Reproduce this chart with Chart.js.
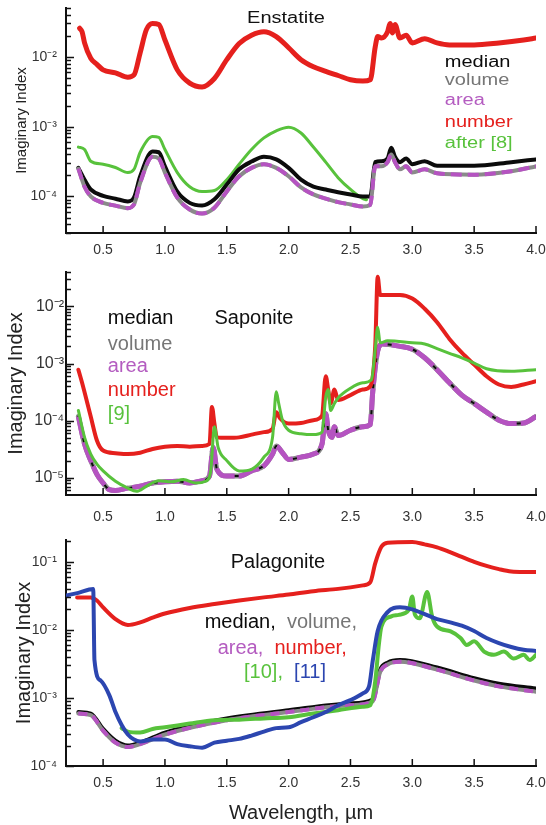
<!DOCTYPE html>
<html>
<head>
<meta charset="utf-8">
<script src="https://cdn.jsdelivr.net/npm/chart.js@4.4.1/dist/chart.umd.min.js"></script>
<style>
  html, body { margin: 0; padding: 0; background: #fff; }
  #wrap { position: relative; width: 546px; height: 825px; overflow: hidden; }
  canvas { position: absolute; left: 0; }
</style>
</head>
<body>
<div id="wrap">
  <canvas id="p1" width="546" height="265" style="top:0px"></canvas>
  <canvas id="p2" width="546" height="273" style="top:262px"></canvas>
  <canvas id="p3" width="546" height="290" style="top:535px"></canvas>
</div>
<script>
// Imaginary index vs wavelength (um) for three minerals

const X_TICKS = [0.5, 1.0, 1.5, 2.0, 2.5, 3.0, 3.5, 4.0];

// ---- Enstatite ----
const P1_DECADES = [1e-4, 1e-3, 1e-2];
const P1_LABELS = ['10⁻⁴', '10⁻³', '10⁻²'];

const P1_X_NUMBER = [0.31,0.33,0.35,0.4,0.45,0.5,0.6,0.7,0.75,0.8,0.85,0.9,0.95,1.0,1.1,1.2,1.3,1.4,1.5,1.6,1.7,1.8,1.9,2.0,2.1,2.2,2.3,2.4,2.5,2.6,2.66,2.7,2.72,2.75,2.8,2.82,2.84,2.86,2.9,2.95,3.0,3.1,3.2,3.3,3.5,3.7,3.9,4.0];
const P1_NUMBER = [2.57e-2,2.29e-2,1.58e-2,9.5e-3,7.8e-3,6.5e-3,5.9e-3,5.1e-3,5.5e-3,1.15e-2,2.45e-2,3.0e-2,2.9e-2,1.74e-2,6.5e-3,4.2e-3,3.7e-3,4.9e-3,9.1e-3,1.55e-2,2.04e-2,2.29e-2,1.95e-2,1.35e-2,9.1e-3,7.2e-3,6.2e-3,5.4e-3,4.7e-3,4.5e-3,4.7e-3,1.38e-2,1.95e-2,1.86e-2,2.29e-2,3.0e-2,2.2e-2,2.9e-2,1.86e-2,2.04e-2,1.58e-2,1.82e-2,1.58e-2,1.48e-2,1.48e-2,1.58e-2,1.74e-2,1.86e-2];

const P1_X = [0.3,0.35,0.4,0.5,0.6,0.7,0.75,0.8,0.9,0.95,1.0,1.1,1.2,1.3,1.4,1.5,1.6,1.7,1.8,1.9,2.0,2.1,2.2,2.3,2.4,2.5,2.6,2.66,2.7,2.75,2.8,2.83,2.86,2.9,2.95,3.0,3.1,3.2,3.5,3.8,4.0];
const P1_MEDIAN = [2.57e-4,1.74e-4,1.26e-4,1.02e-4,9.3e-5,8.5e-5,9.7e-5,1.95e-4,4.4e-4,4.3e-4,2.7e-4,1.17e-4,8.1e-5,7.4e-5,9.1e-5,1.48e-4,2.45e-4,3.16e-4,3.7e-4,3.4e-4,2.57e-4,1.74e-4,1.38e-4,1.26e-4,1.15e-4,1.07e-4,1.0e-4,1.0e-4,3.1e-4,3.2e-4,3.5e-4,5.0e-4,3.7e-4,3.1e-4,3.5e-4,2.9e-4,3.2e-4,2.75e-4,2.75e-4,3.1e-4,3.4e-4];
const P1_AREA = [2.5e-4,1.38e-4,1.0e-4,8.1e-5,7.4e-5,6.8e-5,7.7e-5,1.58e-4,3.7e-4,3.5e-4,2.2e-4,9.6e-5,6.5e-5,5.7e-5,6.9e-5,1.18e-4,1.95e-4,2.57e-4,2.9e-4,2.57e-4,1.95e-4,1.35e-4,1.07e-4,9.3e-5,8.3e-5,7.7e-5,7.2e-5,7.6e-5,2.7e-4,2.7e-4,3.1e-4,4.0e-4,3.1e-4,2.45e-4,2.7e-4,2.2e-4,2.45e-4,2.15e-4,2.05e-4,2.3e-4,2.7e-4];
const P1_VOLUME = P1_AREA; // volume sits under the area curve

const P1_X_REF = [0.3,0.35,0.4,0.5,0.6,0.7,0.75,0.8,0.9,0.95,1.0,1.1,1.2,1.3,1.4,1.5,1.6,1.7,1.8,1.9,2.0,2.1,2.2,2.3,2.4,2.5,2.6,2.63];
const P1_REF = [5.1e-4,4.7e-4,3.2e-4,2.9e-4,2.6e-4,2.2e-4,2.45e-4,4.3e-4,7.2e-4,7.0e-4,4.7e-4,2.2e-4,1.38e-4,1.18e-4,1.22e-4,1.74e-4,2.9e-4,4.7e-4,6.9e-4,8.7e-4,9.8e-4,8.1e-4,5.1e-4,3.1e-4,1.86e-4,1.26e-4,9.3e-5,9.0e-5];

// ---- Saponite ----
const P2_DECADES = [1e-5, 1e-4, 1e-3, 1e-2];
const P2_LABELS = ['10⁻⁵', '10⁻⁴', '10⁻³', '10⁻²'];

const P2_X_NUMBER = [0.3,0.33,0.4,0.45,0.5,0.6,0.7,0.8,0.9,1.0,1.1,1.2,1.3,1.36,1.38,1.4,1.42,1.5,1.6,1.7,1.8,1.87,1.9,1.93,2.0,2.1,2.2,2.27,2.3,2.32,2.34,2.37,2.4,2.5,2.6,2.66,2.7,2.72,2.74,2.8,2.9,3.0,3.1,3.2,3.3,3.4,3.5,3.6,3.7,3.8,3.9,4.0];
const P2_NUMBER = [7.8e-4,4.6e-4,1.18e-4,4.5e-5,3.0e-5,2.7e-5,2.6e-5,2.75e-5,3.2e-5,3.5e-5,3.6e-5,3.5e-5,3.6e-5,3.9e-5,1.74e-4,8.9e-5,5.1e-5,5.0e-5,5.1e-5,5.7e-5,6.3e-5,7.2e-5,1.41e-4,1.1e-4,8.9e-5,9.1e-5,1.02e-4,1.23e-4,6.0e-4,3.5e-4,2.0e-4,3.5e-4,2.3e-4,2.8e-4,3.5e-4,4.0e-4,2.0e-3,3.3e-2,1.58e-2,1.58e-2,1.58e-2,1.37e-2,9.1e-3,5.3e-3,2.7e-3,1.55e-3,9.6e-4,6.0e-4,4.3e-4,3.9e-4,4.3e-4,4.9e-4];

const P2_X_REF = [0.3,0.35,0.4,0.45,0.5,0.6,0.7,0.77,0.85,0.95,1.05,1.15,1.25,1.33,1.37,1.4,1.43,1.5,1.6,1.7,1.8,1.87,1.9,1.92,1.95,2.0,2.1,2.2,2.27,2.3,2.32,2.34,2.37,2.4,2.5,2.6,2.67,2.7,2.72,2.74,2.8,3.0,3.1,3.2,3.3,3.4,3.5,3.6,3.8,4.0];
const P2_REF = [1.51e-4,5.1e-5,2.6e-5,1.74e-5,1.32e-5,8.7e-6,6.6e-6,5.8e-6,7.1e-6,8.9e-6,8.5e-6,9.3e-6,8.1e-6,8.7e-6,1.32e-5,7.8e-5,3.4e-5,2.0e-5,1.32e-5,1.41e-5,2.3e-5,5.1e-5,3.2e-4,2.0e-4,1.02e-4,6.8e-5,5.9e-5,5.7e-5,6.3e-5,2.6e-4,3.5e-4,1.5e-4,2.0e-4,2.5e-4,3.7e-4,4.6e-4,5.2e-4,1.78e-3,4.3e-3,2.3e-3,2.5e-3,2.3e-3,2.2e-3,1.82e-3,1.51e-3,1.26e-3,1.02e-3,8.1e-4,7.3e-4,7.8e-4];

const P2_X = [0.3,0.35,0.4,0.45,0.5,0.55,0.6,0.7,0.8,0.9,1.0,1.1,1.2,1.3,1.36,1.39,1.42,1.5,1.6,1.7,1.8,1.87,1.9,1.95,2.0,2.1,2.2,2.27,2.3,2.32,2.35,2.37,2.4,2.5,2.6,2.66,2.68,2.72,2.76,2.9,3.0,3.1,3.2,3.3,3.4,3.5,3.6,3.7,3.8,3.9,4.0];
const P2_AREA = [1.18e-4,3.9e-5,2.0e-5,1.15e-5,8.1e-6,6.2e-6,6.0e-6,6.6e-6,7.1e-6,8.1e-6,8.5e-6,8.7e-6,8.1e-6,8.9e-6,1.07e-5,3.4e-5,1.41e-5,1.07e-5,1.07e-5,1.32e-5,1.62e-5,2.6e-5,3.6e-5,2.75e-5,2.1e-5,2.3e-5,2.6e-5,3.9e-5,1.32e-4,6.8e-5,5.1e-5,7.8e-5,5.5e-5,6.8e-5,7.8e-5,8.5e-5,3.2e-4,1.66e-3,2.2e-3,2.0e-3,1.78e-3,1.26e-3,7.8e-4,4.6e-4,2.8e-4,2.0e-4,1.41e-4,1.02e-4,8.9e-5,9.1e-5,1.18e-4];
const P2_MEDIAN = P2_AREA;  // indistinguishable at this scale
const P2_VOLUME = P2_AREA;

// ---- Palagonite ----
const P3_DECADES = [1e-4, 1e-3, 1e-2, 1e-1];
const P3_LABELS = ['10⁻⁴', '10⁻³', '10⁻²', '10⁻¹'];

const P3_X_NUMBER = [0.29,0.4,0.45,0.5,0.6,0.7,0.8,0.9,1.0,1.2,1.4,1.6,1.8,2.0,2.2,2.4,2.6,2.66,2.7,2.75,2.8,3.0,3.1,3.2,3.3,3.4,3.5,3.6,3.7,3.8,3.9,4.0];
const P3_NUMBER = [3.0e-2,3.0e-2,2.7e-2,2.14e-2,1.44e-2,1.18e-2,1.29e-2,1.51e-2,1.74e-2,2.1e-2,2.4e-2,2.7e-2,3.0e-2,3.3e-2,3.7e-2,4.0e-2,4.5e-2,5.0e-2,9.5e-2,0.166,0.19,0.195,0.18,0.163,0.14,0.118,0.1,8.7e-2,7.8e-2,7.2e-2,7.1e-2,7.1e-2];

const P3_X_REF11 = [0.2,0.3,0.42,0.43,0.48,0.55,0.6,0.65,0.7,0.75,0.8,0.9,1.0,1.1,1.2,1.3,1.4,1.5,1.6,1.7,1.8,1.9,2.0,2.1,2.2,2.3,2.4,2.5,2.6,2.65,2.68,2.72,2.8,2.9,3.0,3.1,3.2,3.3,3.4,3.5,3.6,3.7,3.8,3.9,4.0];
const P3_REF11 = [3.2e-2,3.5e-2,4.0e-2,3.6e-3,1.8e-3,1.1e-3,6.2e-4,4.0e-4,2.9e-4,2.45e-4,2.3e-4,2.45e-4,2.45e-4,2.1e-4,1.95e-4,1.86e-4,2.2e-4,2.35e-4,2.5e-4,2.8e-4,3.2e-4,3.6e-4,3.7e-4,4.4e-4,5.2e-4,6.2e-4,7.8e-4,9.3e-4,1.17e-3,1.48e-3,3.5e-3,9.6e-3,1.82e-2,2.14e-2,2.0e-2,1.7e-2,1.44e-2,1.3e-2,1.15e-2,9.6e-3,7.6e-3,6.4e-3,5.6e-3,5.1e-3,4.9e-3];

const P3_X_REF10 = [0.65,0.7,0.8,0.9,1.0,1.2,1.4,1.6,1.8,2.0,2.2,2.4,2.6,2.66,2.7,2.73,2.75,2.83,2.89,2.97,3.0,3.02,3.06,3.12,3.16,3.2,3.31,3.39,3.44,3.5,3.58,3.66,3.74,3.82,3.9,3.95,4.0];
const P3_REF10 = [3.6e-4,3.2e-4,3.1e-4,3.5e-4,3.7e-4,4.2e-4,4.7e-4,4.8e-4,5.0e-4,5.2e-4,5.9e-4,6.6e-4,7.4e-4,7.8e-4,1.74e-3,6.2e-3,1.12e-2,1.58e-2,1.66e-2,1.95e-2,3.1e-2,1.7e-2,1.48e-2,3.6e-2,1.58e-2,1.12e-2,9.5e-3,7.6e-3,6.0e-3,6.8e-3,4.8e-3,4.3e-3,4.8e-3,3.8e-3,4.3e-3,3.6e-3,4.3e-3];

const P3_X = [0.3,0.4,0.5,0.6,0.7,0.8,1.0,1.5,2.0,2.5,2.68,2.74,2.8,2.9,3.2,3.5,3.7,4.0];
const P3_MEDIAN = [6.2e-4,5.9e-4,3.5e-4,2.35e-4,2.0e-4,2.2e-4,3.1e-4,5.0e-4,6.6e-4,8.3e-4,9.5e-4,2.6e-3,3.3e-3,3.6e-3,2.8e-3,1.95e-3,1.62e-3,1.38e-3];
const P3_AREA = [5.9e-4,5.6e-4,3.3e-4,2.2e-4,1.9e-4,2.1e-4,2.9e-4,4.7e-4,6.2e-4,7.8e-4,8.9e-4,2.4e-3,3.1e-3,3.4e-3,2.6e-3,1.8e-3,1.48e-3,1.23e-3];
const P3_VOLUME = P3_AREA;

// colours
const RED = '#e5201d', BLACK = '#0b0b0b', GRAY = '#8a8a8a', MAGENTA = '#b553c1',
      GREEN = '#58c23c', BLUE = '#2c46b0';
const TXT_GRAY = '#767676', TXT_MAG = '#b45cc0';

Chart.defaults.font.family = '"Liberation Sans", Arial, sans-serif';

function pts(xs, ys){
  return xs.map((x, i) => ({x, y: ys[i]}));
}

function line(xs, ys, color, width, dash){
  return {
    data: pts(xs, ys),
    borderColor: color,
    borderWidth: width,
    borderDash: dash || [],
    pointRadius: 0,
    cubicInterpolationMode: 'monotone',
    borderJoinStyle: 'round',
    borderCapStyle: dash ? 'butt' : 'round',
    fill: false
  };
}

// tick marks pointing into the plot, minor ticks on the log axis
const inTicks = {
  id: 'inTicks',
  afterDraw(chart){
    const {ctx, chartArea: a, scales: {x, y}} = chart;
    ctx.save();
    ctx.strokeStyle = '#111';
    ctx.lineWidth = 1.5;
    ctx.beginPath();
    x.ticks.forEach(t => {
      const px = x.getPixelForValue(t.value);
      ctx.moveTo(px, a.bottom);
      ctx.lineTo(px, a.bottom - 7);
    });
    const lo = Math.floor(Math.log10(y.min)), hi = Math.ceil(Math.log10(y.max));
    for (let e = lo; e <= hi; e++){
      for (let m = 1; m < 10; m++){
        const v = m * Math.pow(10, e);
        if (v < y.min || v > y.max) continue;
        const py = Math.round(y.getPixelForValue(v)) + 0.5;
        ctx.moveTo(a.left, py);
        ctx.lineTo(a.left + (m === 1 ? 8 : 5), py);
      }
    }
    ctx.stroke();
    ctx.restore();
  }
};

// coloured text labels placed as fractions of the plot area
const notes = {
  id: 'notes',
  afterDatasetsDraw(chart, args, opts){
    const {ctx, chartArea: a} = chart;
    (opts.items || []).forEach(it => {
      ctx.save();
      ctx.font = `${it.size}px "Liberation Sans", Arial, sans-serif`;
      ctx.textBaseline = 'middle';
      ctx.textAlign = 'left';
      const sx = it.sx || 1;
      const total = it.parts.reduce((w, p) => w + ctx.measureText(p[0]).width, 0) * sx;
      let px = a.left + it.fx * a.width;
      if (it.align === 'center') px -= total / 2;
      const py = a.top + it.fy * a.height;
      it.parts.forEach(([t, c]) => {
        ctx.save();
        ctx.translate(px, py);
        ctx.scale(sx, 1);
        ctx.fillStyle = c;
        ctx.fillText(t, 0, 0);
        ctx.restore();
        px += ctx.measureText(t).width * sx;
      });
      ctx.restore();
    });
  }
};

function makePanel(id, cfg){
  return new Chart(document.getElementById(id), {
    type: 'line',
    data: { datasets: cfg.datasets },
    plugins: [inTicks, notes],
    options: {
      responsive: false,
      animation: false,
      events: [],
      layout: { padding: { top: cfg.padTop, right: 10, left: 0, bottom: 0 } },
      plugins: {
        legend: { display: false },
        tooltip: { enabled: false },
        notes: { items: cfg.notes }
      },
      scales: {
        x: {
          type: 'linear', min: 0.2, max: 4.0,
          grid: { display: false, drawTicks: false },
          border: { display: true, color: '#111', width: 2 },
          ticks: { font: { size: 14 }, color: '#333', padding: cfg.xPad, autoSkip: false,
                   callback: v => v.toFixed(1) },
          title: cfg.xTitle
            ? { display: true, text: cfg.xTitle, font: { size: 20 }, color: '#222', padding: { top: 0, bottom: 0 } }
            : { display: false },
          afterBuildTicks: s => { s.ticks = X_TICKS.map(v => ({value: v})); },
          afterFit: s => { s.height = cfg.xHeight; s.paddingLeft = 0; s.paddingRight = 0; }
        },
        y: {
          type: 'logarithmic', min: cfg.yMin, max: cfg.yMax,
          grid: { display: false, drawTicks: false },
          border: { display: true, color: '#111', width: 2 },
          ticks: { font: { size: cfg.yTickSize }, color: '#333', padding: cfg.yPad, autoSkip: false,
                   callback: (v, i) => cfg.yLabels[i] },
          title: { display: true, text: 'Imaginary Index', font: { size: cfg.yTitleSize }, color: '#222',
                   padding: { top: cfg.yTitlePad, bottom: 0 } },
          afterBuildTicks: s => { s.ticks = cfg.decades.map(v => ({value: v})); },
          afterFit: s => { s.width = 66; s.paddingTop = 0; s.paddingBottom = 0; }
        }
      }
    }
  });
}

// Enstatite
makePanel('p1', {
  padTop: 8, xHeight: 32, xPad: 9,
  yMin: 3.0e-5, yMax: 5.0e-2, decades: P1_DECADES, yLabels: P1_LABELS,
  yTickSize: 14, yPad: 9, yTitleSize: 15, yTitlePad: 13,
  datasets: [
    line(P1_X, P1_AREA, MAGENTA, 4, [11, 6]),
    line(P1_X, P1_VOLUME, GRAY, 4),
    line(P1_X, P1_MEDIAN, BLACK, 4),
    line(P1_X_REF, P1_REF, GREEN, 3),
    line(P1_X_NUMBER, P1_NUMBER, RED, 5)
  ],
  notes: [
    { parts: [['Enstatite', '#111']], fx: 0.468, fy: 0.045, align: 'center', size: 16, sx: 1.25 },
    { parts: [['median', BLACK]], fx: 0.806, fy: 0.241, size: 16, sx: 1.25 },
    { parts: [['volume', TXT_GRAY]], fx: 0.806, fy: 0.321, size: 16, sx: 1.25 },
    { parts: [['area', TXT_MAG]], fx: 0.806, fy: 0.411, size: 16, sx: 1.25 },
    { parts: [['number', RED]], fx: 0.806, fy: 0.509, size: 16, sx: 1.25 },
    { parts: [['after [8]', GREEN]], fx: 0.806, fy: 0.603, size: 16, sx: 1.25 }
  ]
});

// Saponite
makePanel('p2', {
  padTop: 10, xHeight: 40, xPad: 14,
  yMin: 5.0e-6, yMax: 4.0e-2, decades: P2_DECADES, yLabels: P2_LABELS,
  yTickSize: 16, yPad: 2, yTitleSize: 20, yTitlePad: 4,
  datasets: [
    line(P2_X_REF, P2_REF, GREEN, 3),
    line(P2_X_NUMBER, P2_NUMBER, RED, 4),
    line(P2_X, P2_AREA, MAGENTA, 5, [22, 4]),
    line(P2_X, P2_MEDIAN, BLACK, 2),
    line(P2_X, P2_VOLUME, GRAY, 5)
  ],
  notes: [
    { parts: [['Saponite', '#111']], fx: 0.40, fy: 0.21, align: 'center', size: 20 },
    { parts: [['median', BLACK]], fx: 0.089, fy: 0.21, size: 20 },
    { parts: [['volume', TXT_GRAY]], fx: 0.089, fy: 0.325, size: 20 },
    { parts: [['area', TXT_MAG]], fx: 0.089, fy: 0.425, size: 20 },
    { parts: [['number', RED]], fx: 0.089, fy: 0.53, size: 20 },
    { parts: [['[9]', GREEN]], fx: 0.089, fy: 0.64, size: 20 }
  ]
});

// Palagonite
makePanel('p3', {
  padTop: 5, xHeight: 59, xPad: 9, xTitle: 'Wavelength, µm',
  yMin: 1.0e-4, yMax: 0.209, decades: P3_DECADES, yLabels: P3_LABELS,
  yTickSize: 14, yPad: 9, yTitleSize: 20, yTitlePad: 12,
  datasets: [
    line(P3_X_REF11, P3_REF11, BLUE, 4),
    line(P3_X_REF10, P3_REF10, GREEN, 4),
    line(P3_X, P3_AREA, MAGENTA, 4, [9, 6]),
    line(P3_X, P3_VOLUME, GRAY, 4),
    line(P3_X, P3_MEDIAN, BLACK, 4),
    line(P3_X_NUMBER, P3_NUMBER, RED, 4)
  ],
  notes: [
    { parts: [['Palagonite', '#111']], fx: 0.451, fy: 0.10, align: 'center', size: 20 },
    { parts: [['median,', BLACK], ['  volume,', TXT_GRAY]], fx: 0.457, fy: 0.365, align: 'center', size: 20 },
    { parts: [['area,', TXT_MAG], ['  number,', RED]], fx: 0.46, fy: 0.48, align: 'center', size: 20 },
    { parts: [['[10],', GREEN], ['  [11]', BLUE]], fx: 0.466, fy: 0.585, align: 'center', size: 20 }
  ]
});
</script>
</body>
</html>
